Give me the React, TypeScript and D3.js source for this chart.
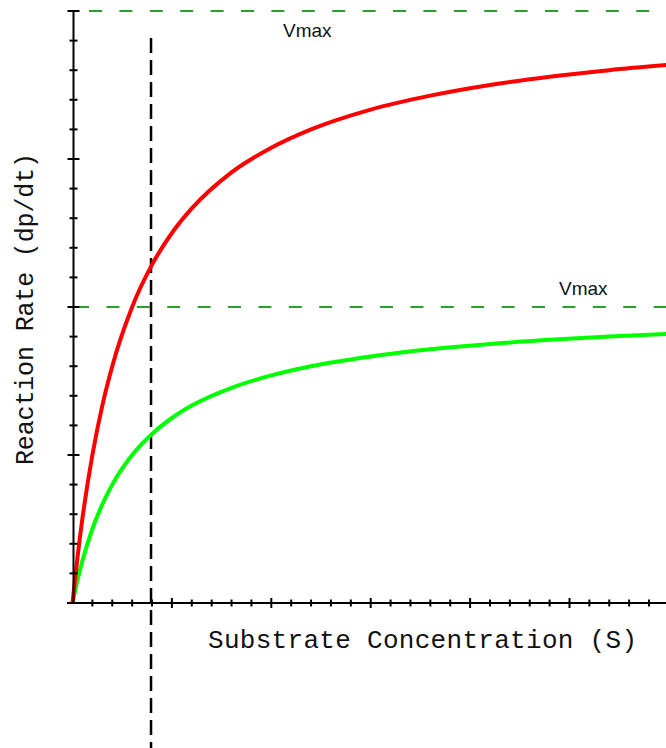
import { useRef, useEffect } from 'react';
import * as d3 from 'd3';

// substrate concentration (S)
const substrate = [0, 0.25, 0.5, 1, 1.5, 2, 3, 4, 5, 6, 8, 10, 12, 15, 18, 21, 24, 27, 30];
// reaction rate for each curve
const redRate = [0, 1.54, 2.86, 5.0, 6.67, 8.0, 10.0, 11.43, 12.5, 13.33, 14.55, 15.38, 16.0, 16.67, 17.14, 17.5, 17.78, 18.0, 18.18];
const greenRate = [0, 0.77, 1.43, 2.5, 3.33, 4.0, 5.0, 5.71, 6.25, 6.67, 7.27, 7.69, 8.0, 8.33, 8.57, 8.75, 8.89, 9.0, 9.09];
// asymptotes
const vmaxValues = [20, 10];
const vmaxLabels = ['Vmax', 'Vmax'];
// marker on the substrate axis
const markerS = 4;

export default function App() {
    const svgRef = useRef<SVGSVGElement>(null);

    useEffect(() => {
        if (!svgRef.current) return;
        const width = 666;
        const height = 748;

        const svg = d3.select(svgRef.current);
        svg.selectAll('*').remove();
        svg.attr('width', width).attr('height', height);

        const x = d3.scaleLinear().domain([0, 30]).range([72.5, 668.9]);
        const y = d3.scaleLinear().domain([0, 20]).range([603, 11]);
        const axisX = 73.5;

        // Vmax dashed lines
        const vmaxStart = [89, 76];
        const labelPos = [{ x: 283, y: 37 }, { x: 559, y: 295 }];
        vmaxValues.forEach((v, i) => {
            svg.append('line')
                .attr('x1', vmaxStart[i])
                .attr('x2', width)
                .attr('y1', y(v))
                .attr('y2', y(v))
                .attr('stroke', '#2e9e2e')
                .attr('stroke-width', 2)
                .attr('stroke-dasharray', '13,17.4');
            svg.append('text')
                .attr('x', labelPos[i].x)
                .attr('y', labelPos[i].y)
                .attr('font-family', '"Liberation Sans", Arial, sans-serif')
                .attr('font-size', '19px')
                .attr('fill', '#111')
                .text(vmaxLabels[i]);
        });

        // marker line
        svg.append('line')
            .attr('x1', x(markerS) - 1)
            .attr('x2', x(markerS) - 1)
            .attr('y1', 38)
            .attr('y2', height)
            .attr('stroke', '#000')
            .attr('stroke-width', 2.5)
            .attr('stroke-dasharray', '15,7');

        // curves
        const line = d3.line<number>()
            .x((_, i) => x(substrate[i]))
            .y(d => y(d))
            .curve(d3.curveMonotoneX);

        svg.append('path')
            .attr('d', line(greenRate))
            .attr('fill', 'none')
            .attr('stroke', '#00ff00')
            .attr('stroke-width', 4);

        svg.append('path')
            .attr('d', line(redRate))
            .attr('fill', 'none')
            .attr('stroke', '#ff0000')
            .attr('stroke-width', 4);

        // axes
        const axes = svg.append('g').attr('stroke', '#000');
        axes.append('line')
            .attr('x1', axisX).attr('x2', axisX)
            .attr('y1', y(20)).attr('y2', y(0))
            .attr('stroke-width', 2);
        axes.append('line')
            .attr('x1', 67).attr('x2', width)
            .attr('y1', y(0)).attr('y2', y(0))
            .attr('stroke-width', 2);

        d3.range(1, 21).forEach(t => {
            const s = t % 5 === 0 ? 6 : 4;
            axes.append('line')
                .attr('x1', axisX - s).attr('x2', axisX + s)
                .attr('y1', y(t)).attr('y2', y(t))
                .attr('stroke-width', 2);
        });
        d3.range(1, 31).forEach(t => {
            const s = t % 5 === 0 ? 5 : 3.5;
            axes.append('line')
                .attr('x1', x(t)).attr('x2', x(t))
                .attr('y1', y(0) - s).attr('y2', y(0) + s)
                .attr('stroke-width', 2);
        });

        // axis titles
        svg.append('text')
            .attr('x', 208)
            .attr('y', 648)
            .attr('font-family', '"Liberation Mono", "Courier New", monospace')
            .attr('font-size', '26px')
            .attr('fill', '#111')
            .attr('textLength', 429)
            .attr('lengthAdjust', 'spacing')
            .text('Substrate Concentration (S)');

        svg.append('text')
            .attr('transform', 'translate(33,465) rotate(-90)')
            .attr('font-family', '"Liberation Mono", "Courier New", monospace')
            .attr('font-size', '25px')
            .attr('fill', '#111')
            .attr('textLength', 312)
            .attr('lengthAdjust', 'spacing')
            .text('Reaction Rate (dp/dt)');
    }, []);

    return (
        <svg ref={svgRef} style={{ position: 'absolute', left: 0, top: 0, display: 'block', background: '#fff' }} />
    );
}
